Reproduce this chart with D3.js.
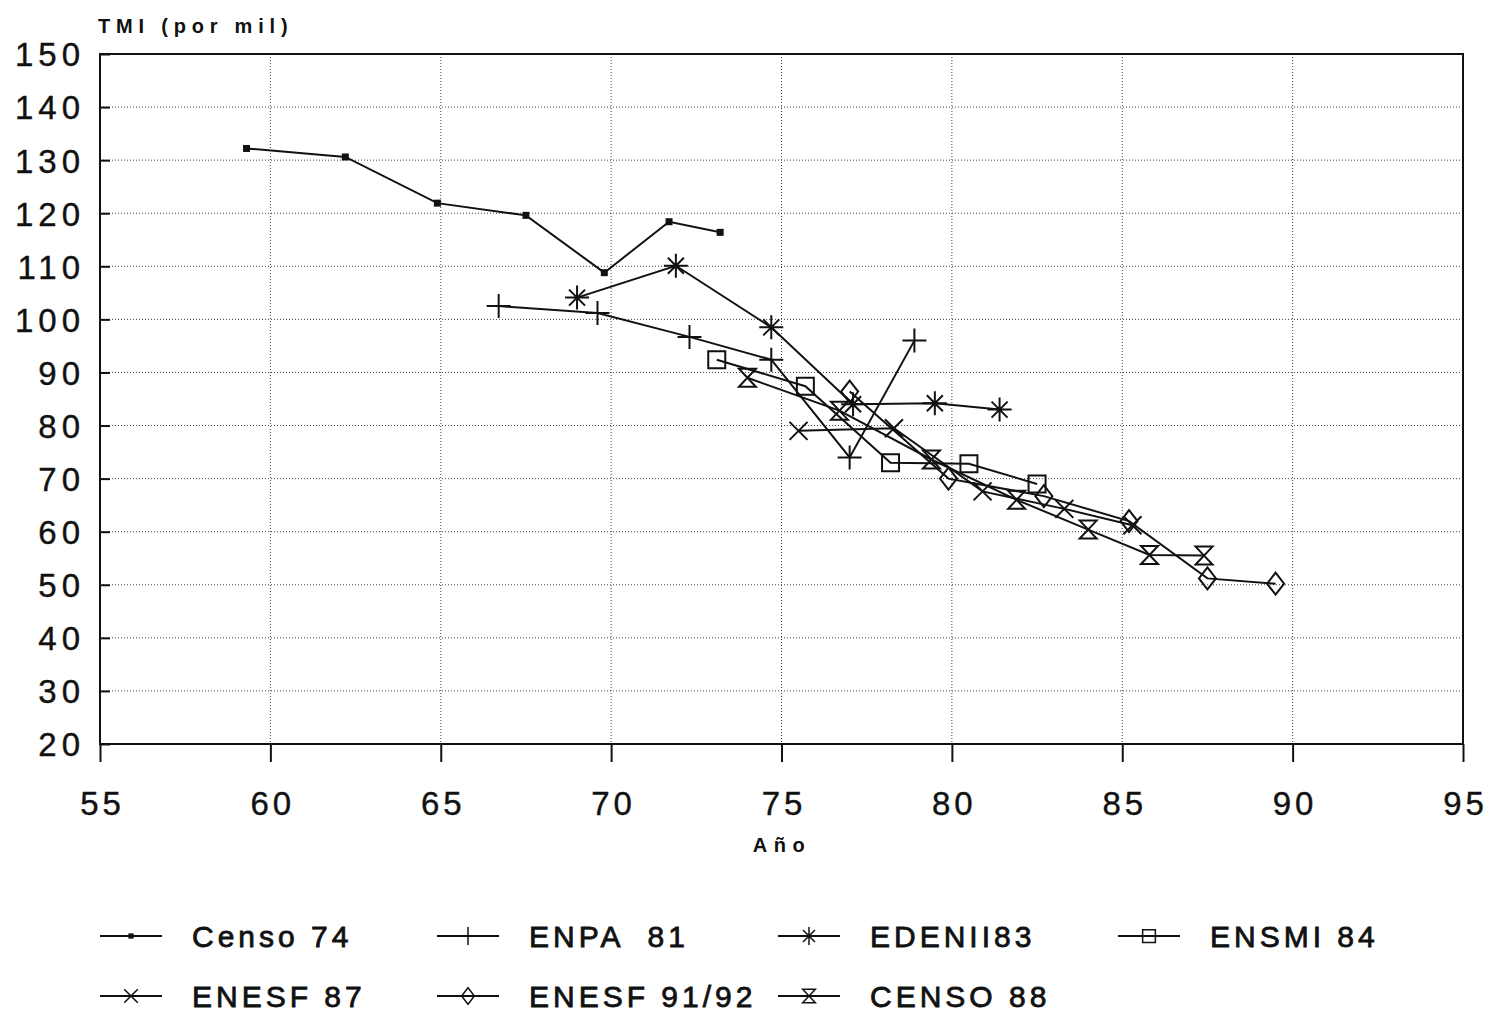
<!DOCTYPE html>
<html>
<head>
<meta charset="utf-8">
<script src="https://cdn.jsdelivr.net/npm/d3@7"></script>
<style>
  body { margin: 0; background: #fff; }
  svg { display: block; }
  text { font-family: "Liberation Sans", Arial, sans-serif; fill: #111; }
</style>
</head>
<body>
<div id="chart"></div>
<script>
// valores (año, TMI por mil)
const censo74   = [[59.3, 132.2], [62.2, 130.6], [64.9, 121.9], [67.5, 119.6], [69.8, 108.8], [71.7, 118.4], [73.2, 116.4]]
const enpa81    = [[66.7, 102.5], [69.6, 101.2], [72.3, 96.7], [74.7, 92.4], [77.0, 74.0], [78.9, 96.0]]
const edenii83  = [[69.0, 104.1], [71.9, 110.1], [74.7, 98.5], [77.1, 84.0], [79.5, 84.2], [81.4, 83.0]]
const ensmi84   = [[73.1, 92.4], [75.7, 87.4], [78.2, 73.0], [80.5, 72.8], [82.5, 69.0]]
const enesf87   = [[75.5, 79.0], [78.3, 79.5], [80.9, 67.6], [83.3, 64.3], [85.3, 61.2]]
const enesf9192 = [[77.0, 86.4], [79.9, 70.0], [82.7, 66.7], [85.2, 62.0], [87.5, 51.2], [89.5, 50.2]]
const censo88   = [[74.0, 89.0], [76.7, 82.8], [79.4, 73.6], [81.9, 66.0], [84.0, 60.4], [85.8, 55.6], [87.4, 55.5]]

const seriesNames = ['Censo 74', 'ENPA  81', 'EDENII83', 'ENSMI 84', 'ENESF 87', 'ENESF 91/92', 'CENSO 88']
const seriesData = [censo74, enpa81, edenii83, ensmi84, enesf87, enesf9192, censo88]
const seriesMarks = ['dot', 'plus', 'star', 'square', 'cross', 'diamond', 'hourglass']

const xTicks = [55, 60, 65, 70, 75, 80, 85, 90, 95]
const yTicks = [20, 30, 40, 50, 60, 70, 80, 90, 100, 110, 120, 130, 140, 150]

const W = 1491, H = 1014
const plot = { left: 100, right: 1463, top: 54, bottom: 744 }

const svg = d3.select('#chart').append('svg').attr('width', W).attr('height', H)

const x = d3.scaleLinear().domain([55, 95]).range([plot.left, plot.right])
const y = d3.scaleLinear().domain([20, 150]).range([plot.bottom, plot.top])

// rejilla punteada
const grid = svg.append('g')
grid.selectAll('.vg').data(xTicks.slice(1, -1)).join('line')
    .attr('x1', d => x(d)).attr('x2', d => x(d))
    .attr('y1', plot.top).attr('y2', plot.bottom)
    .attr('stroke', '#444').attr('stroke-width', 1).attr('stroke-dasharray', '1,2')
grid.selectAll('.hg').data(yTicks.slice(1, -1)).join('line')
    .attr('x1', plot.left).attr('x2', plot.right)
    .attr('y1', d => y(d)).attr('y2', d => y(d))
    .attr('stroke', '#444').attr('stroke-width', 1).attr('stroke-dasharray', '1,2')

// marco
svg.append('rect')
   .attr('x', plot.left).attr('y', plot.top)
   .attr('width', plot.right - plot.left).attr('height', plot.bottom - plot.top)
   .attr('fill', 'none').attr('stroke', '#111').attr('stroke-width', 2)

// ejes
const xAxis = svg.append('g').attr('transform', `translate(0,${plot.bottom})`)
    .call(d3.axisBottom(x).tickValues(xTicks).tickSize(18).tickPadding(30).tickFormat(d3.format('d')))
xAxis.select('.domain').remove()
xAxis.selectAll('line').attr('stroke', '#111').attr('stroke-width', 2)
xAxis.selectAll('text').attr('font-size', 33).attr('letter-spacing', 4).attr('fill', '#111')
     .attr('font-family', '"Liberation Sans", Arial, sans-serif')
     .attr('stroke', '#111').attr('stroke-width', 0.4).attr('dx', 2)

const yAxis = svg.append('g').attr('transform', `translate(${plot.left},0)`)
    .call(d3.axisLeft(y).tickValues(yTicks).tickSize(-10).tickPadding(15).tickFormat(d3.format('d')))
yAxis.select('.domain').remove()
yAxis.selectAll('line').attr('stroke', '#111').attr('stroke-width', 2)
yAxis.selectAll('text').attr('font-size', 33).attr('letter-spacing', 5).attr('fill', '#111')
     .attr('font-family', '"Liberation Sans", Arial, sans-serif').attr('dy', '0.36em')
     .attr('stroke', '#111').attr('stroke-width', 0.4)

// títulos
svg.append('text').attr('x', 98).attr('y', 33).attr('font-size', 20).attr('font-weight', 'bold')
   .attr('letter-spacing', 5.8).text('TMI (por mil)')
svg.append('text').attr('x', 782).attr('y', 852).attr('text-anchor', 'middle')
   .attr('font-size', 20).attr('font-weight', 'bold').attr('letter-spacing', 6.5).text('Año')

// marcadores
function drawMark(g, type) {
    const st = { stroke: '#111', 'stroke-width': 2, fill: 'none' }
    const p = (d) => { const el = g.append('path').attr('d', d); for (const k in st) el.attr(k, st[k]); return el }
    if (type === 'dot') {
        g.append('rect').attr('x', -3.5).attr('y', -3.5).attr('width', 7).attr('height', 7).attr('fill', '#111')
    } else if (type === 'plus') {
        p('M0,-12V12M-12,0H12')
    } else if (type === 'star') {
        p('M0,-12V12M-12,0H12M-8,-8L8,8M-8,8L8,-8')
    } else if (type === 'square') {
        p('M-8.5,-8.5H8.5V8.5H-8.5Z')
    } else if (type === 'cross') {
        p('M-9,-9L9,9M-9,9L9,-9')
    } else if (type === 'diamond') {
        p('M0,-11L8.5,0L0,11L-8.5,0Z')
    } else if (type === 'hourglass') {
        p('M-8.5,-9H8.5L-8.5,9H8.5Z')
    }
}

const line = d3.line().x(d => x(d[0])).y(d => y(d[1]))

seriesData.forEach((data, i) => {
    const g = svg.append('g').attr('class', 'serie')
    g.append('path').datum(data).attr('d', line)
     .attr('fill', 'none').attr('stroke', '#111').attr('stroke-width', 2)
    g.selectAll('.m').data(data).join('g')
     .attr('transform', d => `translate(${x(d[0])},${y(d[1])})`)
     .each(function () { drawMark(d3.select(this), seriesMarks[i]) })
})

// leyenda
const legCols = [100, 437, 778, 1118]
const legRows = [936, 996]
seriesNames.forEach((name, i) => {
    const lx = legCols[i % 4], ly = legRows[Math.floor(i / 4)]
    const g = svg.append('g').attr('transform', `translate(${lx},${ly})`)
    g.append('line').attr('x1', 0).attr('x2', 62).attr('y1', 0).attr('y2', 0)
     .attr('stroke', '#111').attr('stroke-width', 2)
    const m = g.append('g')
    drawMark(m, seriesMarks[i])
    m.attr('transform', 'translate(31,0) scale(0.75)')
    g.append('text').attr('x', 92).attr('y', 11).attr('font-size', 30).attr('letter-spacing', 4)
     .attr('stroke', '#111').attr('stroke-width', 0.8)
     .style('white-space', 'pre').attr('xml:space', 'preserve').text(name)
})
</script>
</body>
</html>
